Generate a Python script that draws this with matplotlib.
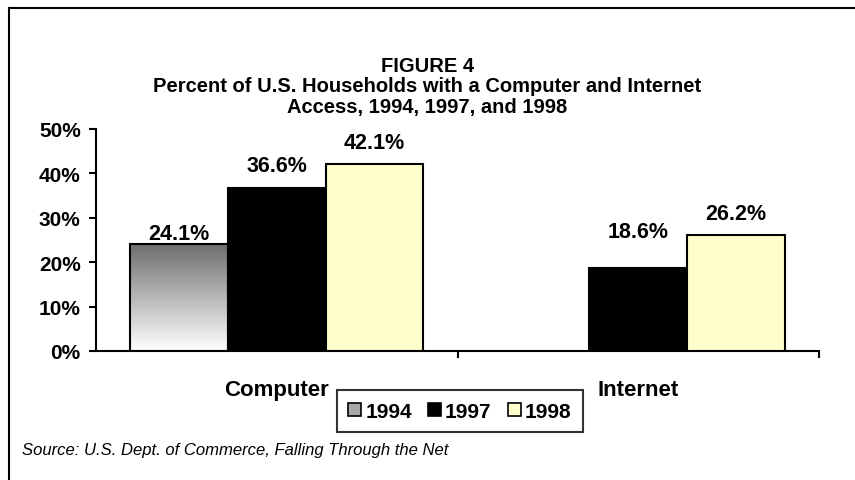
import matplotlib
matplotlib.use('Agg')
import matplotlib.pyplot as plt
from matplotlib.patches import Patch
from matplotlib.lines import Line2D
import numpy as np

plt.rcParams['font.family'] = ['Liberation Sans', 'DejaVu Sans']

# data
categories = ['Computer', 'Internet']
years = ['1994', '1997', '1998']
values = {
    '1994': [24.1, None],
    '1997': [36.6, 18.6],
    '1998': [42.1, 26.2],
}
# label gap above each bar (points), Excel placed them unevenly
label_gap = {
    '1994': [0, 0],
    '1997': [9, 19],
    '1998': [8, 8],
}
colors = {'1994': None, '1997': '#000000', '1998': '#FFFFCC'}

fig = plt.figure(figsize=(8.55, 4.81), dpi=100)
ax = fig.add_axes([96 / 855, 129 / 481, 723 / 855, 222 / 481])

width = 0.27
x = np.arange(len(categories))
for k, yr in enumerate(years):
    off = (k - 1) * width
    for i, v in enumerate(values[yr]):
        if v is None:
            continue
        fc = colors[yr] if colors[yr] else 'none'
        bars = ax.bar(x[i] + off, v, width, color=fc, edgecolor='black',
                      linewidth=1.5, zorder=3)
        if colors[yr] is None:
            # gray-to-white gradient like the original
            b = bars[0]
            grad = np.linspace(0, 1, 256).reshape(-1, 1)
            im = ax.imshow(grad, cmap='gray', vmin=-0.75, vmax=1.0,
                           extent=[b.get_x(), b.get_x() + b.get_width(), 0, v],
                           aspect='auto', origin='upper', zorder=2)
            im.set_clip_path(b)
        ax.annotate(f'{v:.1f}%', (x[i] + off, v), xytext=(0, label_gap[yr][i]),
                    textcoords='offset points', ha='center', va='bottom',
                    fontsize=15.5, fontweight='bold')

ax.set_xlim(-0.5, 1.5)
ax.set_ylim(0, 50)
ax.set_yticks(np.arange(0, 51, 10))
ax.set_yticklabels([f'{t}%' for t in range(0, 51, 10)], fontsize=15, fontweight='bold')
ax.set_xticks(x)
ax.set_xticklabels(categories, fontsize=16, fontweight='bold')
ax.set_xticks([0.5, 1.5], minor=True)
ax.tick_params(axis='x', which='major', length=0, pad=20)
ax.tick_params(axis='x', which='minor', length=5, width=1.5, direction='out')
ax.tick_params(axis='y', length=5, width=1.5, direction='out', pad=6)
for s in ['top', 'right']:
    ax.spines[s].set_visible(False)
for s in ['left', 'bottom']:
    ax.spines[s].set_linewidth(1.5)

fig.text(0.5, 1 - 67 / 481, 'FIGURE 4', ha='center', va='center',
         fontsize=14.5, fontweight='bold')
fig.text(0.5, 1 - 87 / 481, 'Percent of U.S. Households with a Computer and Internet',
         ha='center', va='center', fontsize=14.5, fontweight='bold')
fig.text(0.5, 1 - 107 / 481, 'Access, 1994, 1997, and 1998',
         ha='center', va='center', fontsize=14.5, fontweight='bold')

handles = [Patch(facecolor='#A8A8A8', edgecolor='black', linewidth=1.2),
           Patch(facecolor='#000000', edgecolor='black', linewidth=1.2),
           Patch(facecolor='#FFFFCC', edgecolor='black', linewidth=1.2)]
leg = fig.legend(handles, years, loc='center', bbox_to_anchor=(460 / 855, 1 - 412 / 481),
                 ncol=3, frameon=True, fancybox=False, edgecolor='black',
                 handlelength=0.6, handleheight=0.6, handletextpad=0.2,
                 columnspacing=0.8, borderpad=0.55,
                 prop={'size': 15, 'weight': 'bold'})
leg.get_frame().set_linewidth(1.5)

fig.text(22 / 855, 1 - 451 / 481, 'Source: U.S. Dept. of Commerce, Falling Through the Net',
         ha='left', va='center', fontsize=12, style='italic')

# outer frame (only left and top fall inside the image)
fig.add_artist(Line2D([9 / 855, 9 / 855], [0, 1 - 9 / 481], color='black', linewidth=1.5))
fig.add_artist(Line2D([9 / 855, 1], [1 - 9 / 481, 1 - 9 / 481], color='black', linewidth=1.5))

fig.savefig('out.png', dpi=100)
